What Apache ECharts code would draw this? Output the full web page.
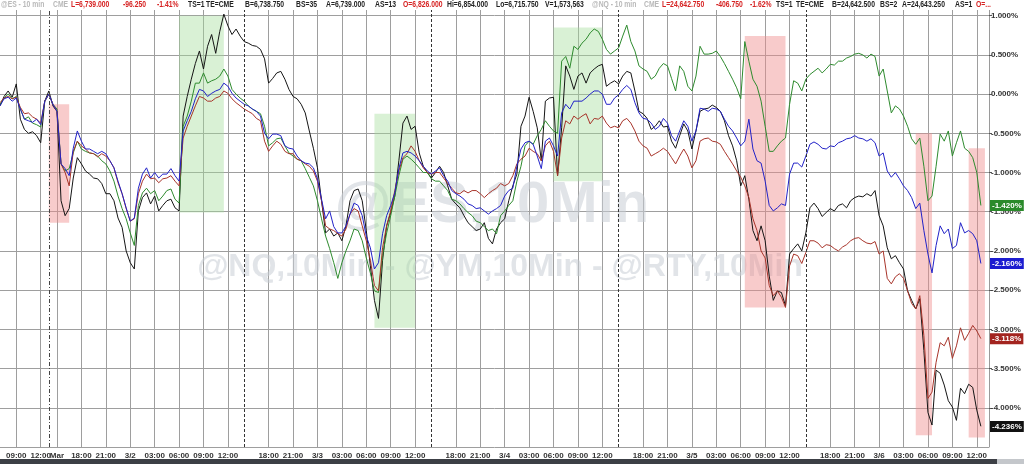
<!DOCTYPE html>
<html><head><meta charset="utf-8">
<script src="https://cdn.jsdelivr.net/npm/echarts@6/dist/echarts.min.js"></script>
<style>html,body{margin:0;padding:0;background:#fff}#c{width:1024px;height:464px}</style>
</head><body><div id="c"></div>
<script>
// trading sessions (Pacific time), 30-minute bars
const sessions = [
  ['2026-02-27T07:00','2026-02-27T13:30'],
  ['2026-03-01T15:00','2026-03-02T13:30'],
  ['2026-03-02T15:00','2026-03-03T13:30'],
  ['2026-03-03T15:00','2026-03-04T13:30'],
  ['2026-03-04T15:00','2026-03-05T13:30'],
  ['2026-03-05T15:00','2026-03-06T13:30']
];
const labelHours = ['00:00','03:00','06:00','09:00','12:00','18:00','21:00'];
const monthLabelAt = '3/1 15:00';
const sessionBreaks = ['3/2 15:00','3/3 15:00','3/4 15:00','3/5 15:00'];
const weekBreak = '2/27 13:00';

// % change series
const esGreen = [-0.13,-0.05,0.00,-0.06,-0.03,-0.19,-0.32,-0.29,-0.37,-0.39,-0.42,-0.09,0.00,-0.13,-0.19,
-0.89,-0.98,-0.95,-0.75,-0.60,-0.70,-0.73,-0.75,-0.76,-0.79,-0.85,-0.89,-0.98,-1.11,-1.30,-1.46,-1.59,-1.77,-1.93,-1.42,-1.26,-1.20,-1.27,-1.23,-1.36,-1.30,-1.23,-1.21,-1.34,-1.39,
-0.41,-0.28,-0.09,0.14,0.14,0.27,0.14,0.17,0.19,0.23,0.32,0.23,0.06,0.00,-0.05,
-0.09,-0.15,-0.19,-0.22,-0.25,-0.41,-0.66,-0.62,-0.57,-0.56,-0.66,-0.75,-0.79,-0.83,-0.85,-0.95,-1.06,-1.17,-1.36,-1.59,-1.81,-1.97,-2.15,-2.35,-2.15,-2.00,-1.87,-1.72,-1.74,-1.87,-2.09,-2.28,-2.51,-2.53,-2.06,-1.77,-1.55,-1.30,-1.04,-0.83,-0.79,-0.83,-0.88,-0.94,-1.00,-1.00,
-1.08,-1.11,-1.11,-1.17,-1.23,-1.34,-1.36,-1.40,-1.46,-1.51,-1.55,-1.62,-1.64,-1.69,-1.74,-1.72,-1.78,-1.55,-1.49,-1.42,-1.36,-1.11,-0.92,-0.66,-0.60,-0.64,-0.53,-0.45,-0.34,-0.41,-0.47,-0.50,0.42,0.48,0.33,0.61,0.57,0.65,0.70,0.78,0.83,0.80,0.70,0.57,0.51,0.55,0.59,
0.74,0.88,0.67,0.55,0.36,0.32,0.29,0.19,0.23,0.33,0.39,0.36,0.20,0.04,0.36,0.29,0.10,0.04,0.23,0.61,0.51,0.51,0.52,0.55,0.48,0.39,0.29,0.19,0.08,-0.06,0.67,0.42,0.19,0.10,-0.09,-0.41,-0.73,-0.73,-0.66,-0.60,-0.56,-0.13,0.17,0.14,0.04,
0.19,0.25,0.29,0.33,0.27,0.32,0.38,0.37,0.42,0.42,0.46,0.48,0.51,0.52,0.50,0.46,0.51,0.48,0.23,0.32,0.04,-0.24,-0.15,-0.19,-0.28,-0.41,-0.57,-0.64,-0.56,-0.92,-1.36,-1.30,-0.92,-0.51,-0.60,-0.47,-0.79,-0.62,-0.47,-0.69,-0.73,-0.81,-1.00,-1.42];

const nqBlue = [-0.15,-0.06,-0.04,-0.09,-0.05,-0.19,-0.32,-0.34,-0.36,-0.32,-0.39,-0.09,0.00,-0.13,-0.22,
-0.89,-0.95,-1.04,-0.69,-0.47,-0.60,-0.70,-0.70,-0.73,-0.76,-0.73,-0.76,-0.85,-0.94,-1.11,-1.27,-1.45,-1.62,-1.58,-1.20,-1.02,-0.94,-1.07,-1.00,-1.07,-1.02,-1.02,-0.95,-1.04,-1.11,
-0.47,-0.34,-0.22,-0.06,0.06,0.04,-0.03,0.01,0.04,0.06,0.14,0.10,0.01,-0.05,-0.09,
-0.13,-0.15,-0.19,-0.22,-0.28,-0.50,-0.57,-0.51,-0.51,-0.53,-0.66,-0.69,-0.70,-0.79,-0.85,-0.88,-0.89,-0.94,-1.08,-1.34,-1.59,-1.49,-1.69,-1.77,-1.77,-1.68,-1.53,-1.39,-1.42,-1.55,-1.81,-1.96,-2.23,-2.15,-1.78,-1.55,-1.42,-1.26,-0.95,-0.75,-0.73,-0.75,-0.79,-0.85,-0.92,-0.98,
-1.02,-0.98,-0.94,-1.04,-1.11,-1.23,-1.27,-1.30,-1.34,-1.40,-1.42,-1.46,-1.45,-1.49,-1.53,-1.49,-1.46,-1.42,-1.30,-1.23,-1.20,-0.92,-0.70,-0.62,-0.60,-0.64,-0.79,-0.95,-0.60,-0.56,-0.66,-0.79,-0.24,-0.13,-0.19,-0.09,-0.09,-0.09,-0.05,0.00,0.04,0.04,0.00,-0.13,-0.13,-0.05,-0.01,
0.06,0.11,0.06,-0.11,-0.24,-0.31,-0.32,-0.37,-0.45,-0.41,-0.31,-0.37,-0.53,-0.60,-0.47,-0.34,-0.41,-0.60,-0.47,-0.18,-0.19,-0.22,-0.18,-0.19,-0.22,-0.32,-0.41,-0.47,-0.56,-0.66,-0.60,-0.32,-0.70,-0.85,-0.88,-1.11,-1.42,-1.49,-1.45,-1.40,-1.42,-1.02,-0.88,-0.88,-0.93,
-0.79,-0.64,-0.61,-0.64,-0.69,-0.70,-0.66,-0.67,-0.62,-0.60,-0.57,-0.56,-0.53,-0.56,-0.57,-0.60,-0.57,-0.62,-0.79,-0.75,-0.98,-1.06,-1.00,-1.08,-1.17,-1.23,-1.32,-1.46,-1.39,-1.74,-2.04,-2.28,-1.93,-1.68,-1.78,-1.72,-1.97,-1.93,-1.64,-1.77,-1.74,-1.78,-1.87,-2.16];

const ymRed = [-0.11,-0.05,-0.03,-0.06,-0.04,-0.17,-0.25,-0.24,-0.29,-0.32,-0.37,-0.09,0.00,-0.13,-0.22,
-0.89,-1.00,-1.17,-0.73,-0.60,-0.66,-0.70,-0.75,-0.76,-0.80,-0.76,-0.79,-0.85,-0.94,-1.13,-1.27,-1.46,-1.62,-1.59,-1.27,-1.11,-1.02,-1.08,-1.07,-1.13,-1.08,-1.07,-1.04,-1.11,-1.17,
-0.56,-0.41,-0.28,-0.15,-0.03,-0.05,-0.09,-0.09,-0.05,-0.03,0.04,0.01,-0.06,-0.11,-0.15,
-0.19,-0.22,-0.25,-0.31,-0.34,-0.60,-0.73,-0.66,-0.60,-0.64,-0.73,-0.76,-0.76,-0.83,-0.85,-0.89,-0.92,-0.98,-1.11,-1.36,-1.68,-1.72,-1.74,-1.78,-1.81,-1.72,-1.53,-1.46,-1.49,-1.68,-1.87,-2.12,-2.44,-2.51,-1.96,-1.68,-1.49,-1.23,-0.98,-0.81,-0.76,-0.66,-0.73,-0.85,-0.94,-1.00,
-1.02,-1.00,-1.00,-1.07,-1.14,-1.20,-1.26,-1.27,-1.23,-1.26,-1.23,-1.23,-1.27,-1.32,-1.27,-1.23,-1.20,-1.14,-1.17,-1.14,-1.04,-0.89,-0.83,-0.79,-0.69,-0.73,-0.76,-0.85,-0.66,-0.60,-0.73,-1.04,-0.56,-0.34,-0.38,-0.28,-0.32,-0.28,-0.25,-0.38,-0.31,-0.32,-0.28,-0.37,-0.43,-0.41,-0.43,
-0.34,-0.31,-0.37,-0.47,-0.60,-0.66,-0.69,-0.79,-0.76,-0.73,-0.69,-0.73,-0.81,-0.89,-0.79,-0.70,-0.79,-0.94,-0.85,-0.60,-0.57,-0.56,-0.60,-0.61,-0.64,-0.73,-0.81,-0.89,-0.98,-1.06,-1.17,-1.32,-1.59,-1.74,-2.00,-2.09,-2.44,-2.57,-2.51,-2.59,-2.72,-2.19,-2.04,-2.06,-2.16,
-2.02,-1.87,-1.87,-1.90,-1.96,-1.92,-1.93,-1.97,-2.00,-1.95,-1.92,-1.87,-1.84,-1.83,-1.87,-1.90,-1.91,-1.88,-2.04,-2.00,-2.35,-2.42,-2.33,-2.29,-2.35,-2.51,-2.67,-2.74,-2.57,-3.08,-3.88,-3.80,-3.42,-3.17,-3.21,-3.10,-3.37,-3.21,-2.98,-3.14,-3.05,-2.95,-3.02,-3.118];

const rtyBlack = [-0.15,-0.03,0.04,-0.04,0.13,-0.32,-0.45,-0.50,-0.48,-0.53,-0.62,-0.09,0.04,-0.15,-0.22,
-1.36,-1.55,-1.46,-1.07,-0.81,-0.89,-0.98,-1.02,-1.07,-1.08,-1.14,-1.27,-1.27,-1.36,-1.58,-1.70,-2.00,-2.15,-2.23,-1.49,-1.32,-1.26,-1.40,-1.30,-1.49,-1.42,-1.36,-1.34,-1.45,-1.49,
-0.28,-0.03,0.19,0.39,0.55,0.32,0.61,0.76,0.52,0.80,1.02,0.87,0.76,0.83,0.74,
0.67,0.65,0.62,0.61,0.57,0.45,0.14,0.20,0.27,0.29,0.19,0.06,-0.03,-0.06,-0.13,-0.24,-0.47,-0.69,-0.94,-1.36,-1.77,-1.72,-1.81,-1.77,-1.87,-1.68,-1.36,-1.23,-1.21,-1.36,-1.74,-2.19,-2.63,-2.86,-2.12,-1.68,-1.51,-1.30,-0.85,-0.37,-0.28,-0.45,-0.41,-0.75,-0.92,-1.00,
-1.07,-1.00,-0.92,-1.00,-1.17,-1.34,-1.40,-1.45,-1.55,-1.64,-1.69,-1.74,-1.72,-1.64,-1.84,-1.91,-1.72,-1.64,-1.59,-1.36,-1.17,-1.02,-0.41,-0.28,-0.04,-0.22,-0.43,-0.85,-0.09,-0.05,-0.04,-1.04,-0.43,0.36,0.23,0.06,0.23,0.27,0.14,0.27,0.32,0.36,0.38,0.10,0.14,0.17,0.13,
0.23,0.29,0.27,0.04,-0.22,-0.25,-0.31,-0.45,-0.41,-0.34,-0.42,-0.41,-0.60,-0.69,-0.53,-0.38,-0.47,-0.70,-0.47,-0.22,-0.19,-0.18,-0.14,-0.17,-0.22,-0.34,-0.53,-0.66,-0.85,-1.17,-1.04,-1.34,-1.74,-1.87,-1.68,-1.87,-2.32,-2.63,-2.51,-2.53,-2.70,-2.04,-1.97,-1.91,-2.00,
-1.77,-1.45,-1.39,-1.46,-1.56,-1.51,-1.46,-1.49,-1.42,-1.40,-1.45,-1.36,-1.32,-1.30,-1.31,-1.27,-1.30,-1.23,-1.55,-1.68,-1.96,-2.10,-2.06,-2.15,-2.23,-2.51,-2.63,-2.74,-2.61,-3.27,-4.06,-4.22,-3.52,-3.56,-3.71,-3.91,-3.99,-4.16,-3.75,-3.82,-3.70,-3.74,-4.03,-4.236];

// highlighted zones [fromCategory, toCategory, high%, low%]
const greenZones = [
  ['3/2 06:00','3/2 11:30', 1.00,-1.51],
  ['3/3 07:00','3/3 12:00',-0.25,-2.98],
  ['3/4 06:00','3/4 12:00', 0.85,-1.11]
];
const redZones = [
  ['2/27 13:00','3/1 16:30',-0.13,-1.64],
  ['3/5 06:30','3/5 11:30', 0.74,-2.72],
  ['3/6 04:30','3/6 06:30',-0.50,-4.35],
  ['3/6 11:00','3/6 13:00',-0.69,-4.38]
];

const header = [
  ['@ES - 10 min',1,'#b9b9b9'],['CME',53,'#b9b9b9'],
  ['L=6,739.000',71,'#d62222'],['-96.250',123,'#d62222'],['-1.41%',157,'#d62222'],
  ['TS=1',188,'#222'],['TE=CME',206,'#222'],['B=6,738.750',245,'#222'],['BS=35',296,'#222'],
  ['A=6,739.000',326,'#222'],['AS=13',375,'#222'],['O=6,826.000',403,'#d62222'],
  ['Hi=6,854.000',447,'#222'],['Lo=6,715.750',496,'#222'],['V=1,573,563',545,'#222'],
  ['@NQ - 10 min',592,'#b9b9b9'],['CME',644,'#b9b9b9'],
  ['L=24,642.750',662,'#d62222'],['-406.750',716,'#d62222'],['-1.62%',750,'#d62222'],
  ['TS=1',776,'#222'],['TE=CME',796,'#222'],['B=24,642.500',832,'#222'],['BS=2',880,'#222'],
  ['A=24,643.250',902,'#222'],['AS=1',955,'#222'],['O=...',976,'#d62222']
];

function buildCategories(){
  const out=[];
  for (const [a,b] of sessions){
    let t=Date.parse(a+':00Z'); const e=Date.parse(b+':00Z');
    while(t<=e){
      const d=new Date(t);
      out.push((d.getUTCMonth()+1)+'/'+d.getUTCDate()+' '+String(d.getUTCHours()).padStart(2,'0')+':'+String(d.getUTCMinutes()).padStart(2,'0'));
      t+=1800000;
    }
  }
  return out;
}
const categories = buildCategories();
const FONT = '"Liberation Sans",Arial,sans-serif';

function showTick(idx, val){
  if (val === monthLabelAt) return true;
  const hm = val.split(' ')[1];
  return labelHours.indexOf(hm) >= 0;
}
function fmtLabel(val){
  if (val === monthLabelAt) return 'Mar';
  const p = val.split(' ');
  if (p[1] === '00:00') return p[0];
  return p[1];
}

function lineSeries(name, data, color, tagColor){
  const last = data[data.length-1];
  return {
    name, type:'line', data, symbol:'none', showSymbol:false, z:3, clip:false,
    lineStyle:{color, width:1}, itemStyle:{color},
    markLine:{silent:true, symbol:['none','none'], animation:false,
      lineStyle:{color:'rgba(0,0,0,0)', width:0, type:'solid'},
      data:[{yAxis:last}],
      label:{show:true, position:'end', distance:1, formatter: last.toFixed(3)+'%',
        backgroundColor:tagColor, color:'#fff', padding:[2,2,1,2], fontSize:8, fontWeight:'bold', fontFamily:FONT, opacity:1}
    }
  };
}

const chart = echarts.init(document.getElementById('c'), null, {renderer:'canvas'});
const option = {
  animation:false,
  backgroundColor:'#fff',
  grid:{left:0, right:35, top:-1, bottom:17, containLabel:false},
  xAxis:{type:'category', data:categories, boundaryGap:false,
    axisLine:{show:false}, axisTick:{show:false},
    axisLabel:{interval:showTick, formatter:fmtLabel, fontSize:8, fontWeight:'bold', color:'#333', margin:5, fontFamily:FONT},
    splitLine:{show:true, interval:showTick, lineStyle:{color:'#9e9e9e', width:1}}
  },
  yAxis:{type:'value', position:'right', min:-4.5, max:1.2, interval:0.5,
    axisLine:{show:true, lineStyle:{color:'#9a9a9a'}},
    axisTick:{show:true, length:3, lineStyle:{color:'#555'}},
    axisLabel:{formatter:v=>v.toFixed(3)+'%', showMinLabel:false, showMaxLabel:false, fontSize:8, fontWeight:'bold', color:'#333', margin:2, fontFamily:FONT},
    splitLine:{show:true, lineStyle:{color:'#9e9e9e', width:1}}
  },
  graphic:[
    {type:'text', z:1, x:492, y:206, style:{text:'@ES,10Min', x:0, y:0, textAlign:'center', textVerticalAlign:'middle', font:'bold 58px "Liberation Sans",Arial,sans-serif', fill:'rgba(200,206,214,0.55)'}},
    {type:'text', z:1, x:500, y:267, style:{text:'@NQ,10Min - @YM,10Min - @RTY,10Min', x:0, y:0, textAlign:'center', textVerticalAlign:'middle', font:'bold 32px "Liberation Sans",Arial,sans-serif', fill:'rgba(200,206,214,0.55)'}},
    {type:'rect', z:50, shape:{x:0,y:0,width:1024,height:10}, style:{fill:'#fff'}},
    {type:'rect', z:50, shape:{x:0,y:459,width:997,height:5}, style:{fill:'#3c3f45'}},
    {type:'rect', z:50, shape:{x:997,y:459,width:27,height:5}, style:{fill:'#c4c7cb'}}
  ].concat(header.map(h=>({type:'text', z:51, x:h[1], y:5, scaleX:0.8, style:{text:h[0], x:0, y:0, textVerticalAlign:'middle', font:'bold 8.5px '+FONT, fill:h[2]}}))),
  series:[
    lineSeries('@RTY', rtyBlack, '#151515', '#111'),
    lineSeries('@ES', esGreen, '#2e8b2e', '#2a8a2a'),
    lineSeries('@YM', ymRed, '#a8342a', '#a3241f'),
    lineSeries('@NQ', nqBlue, '#2222c8', '#1c1cd0'),
    {name:'zones', type:'line', data:[], z:6, silent:true,
      markArea:{silent:true, data:
        greenZones.map(z=>[{xAxis:z[0], yAxis:z[2], itemStyle:{color:'rgba(165,222,155,0.42)'}},{xAxis:z[1], yAxis:z[3]}])
        .concat(redZones.map(z=>[{xAxis:z[0], yAxis:z[2], itemStyle:{color:'rgba(240,140,140,0.45)'}},{xAxis:z[1], yAxis:z[3]}]))
      },
      markLine:{silent:true, symbol:['none','none'], label:{show:false},
        data: sessionBreaks.map(c=>({xAxis:c, lineStyle:{type:[3,2], color:'#333', width:1}}))
          .concat([{xAxis:weekBreak, lineStyle:{type:[4,2,1,2], color:'#444', width:1}}])
      }
    }
  ]
};
chart.setOption(option);
</script></body></html>
